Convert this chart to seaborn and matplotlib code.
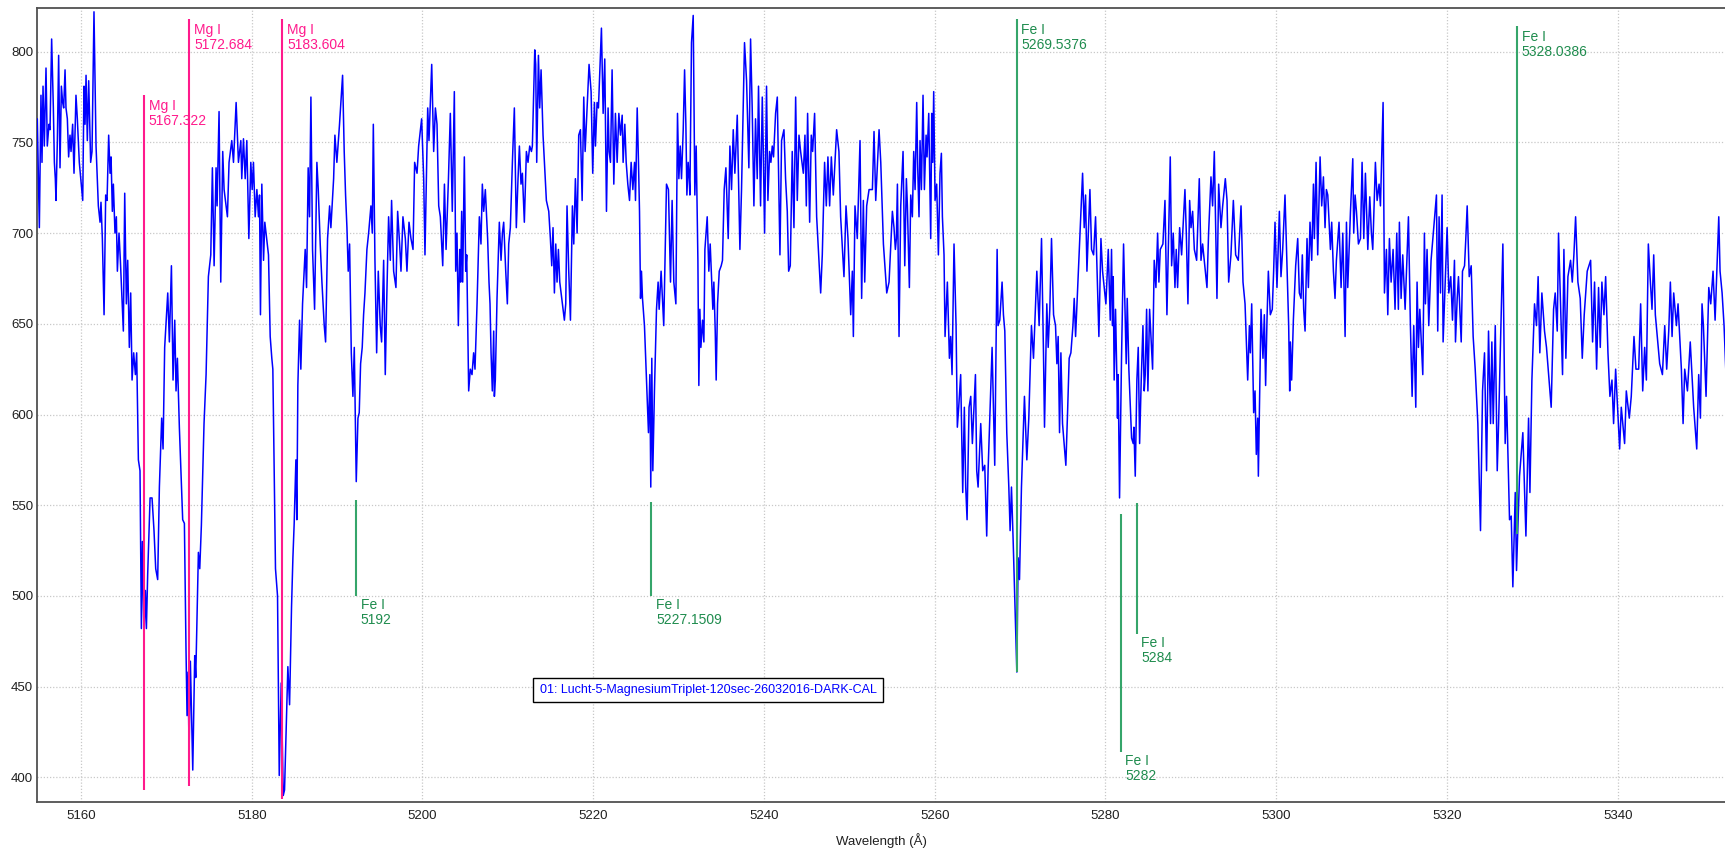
import matplotlib
matplotlib.use("Agg")
import matplotlib.pyplot as plt
import numpy as np
import pandas as pd
import seaborn as sns

# ---------------- data ----------------
wl_a = [5154.88, 5155.12, 5155.31, 5155.43, 5155.55, 5155.70, 5155.90, 5156.05, 5156.25, 5156.37,
        5156.56, 5156.76, 5156.88, 5156.99, 5157.07, 5157.23, 5157.38, 5157.54, 5157.70, 5157.85,
        5157.97, 5158.13, 5158.24, 5158.40, 5158.55, 5158.71, 5158.83, 5159.02, 5159.18, 5159.41,
        5159.57, 5159.80, 5160.20, 5160.35, 5160.47, 5160.59, 5160.74, 5160.90, 5161.13, 5161.29,
        5161.52, 5161.76, 5162.03, 5162.23, 5162.34, 5162.50, 5162.70, 5162.89, 5163.05, 5163.24,
        5163.40, 5163.52, 5163.67, 5163.79, 5163.98, 5164.14, 5164.26, 5164.45, 5164.61, 5164.96,
        5165.12, 5165.31, 5165.47, 5165.66, 5165.82, 5165.98, 5166.17, 5166.37, 5166.52, 5166.72,
        5166.91, 5167.07, 5167.19, 5167.38, 5167.54, 5167.66, 5167.81, 5167.93, 5168.09, 5168.32,
        5168.55, 5168.75, 5168.98, 5169.18, 5169.45, 5169.61, 5169.80, 5170.16, 5170.35, 5170.59,
        5170.78, 5170.98, 5171.13, 5171.29, 5171.52, 5171.91, 5172.11, 5172.30, 5172.42, 5172.54,
        5172.66, 5172.81, 5173.09, 5173.32, 5173.44, 5173.75, 5173.91, 5174.10, 5174.41, 5174.65,
        5174.92, 5175.20, 5175.39, 5175.59, 5175.82, 5175.94, 5176.17, 5176.37, 5176.60, 5176.76,
        5177.15, 5177.34]
fx_a = [763, 703, 776, 739, 781, 748, 791, 748, 760, 757,
        807, 769, 739, 730, 718, 751, 798, 736, 781, 772,
        769, 790, 769, 763, 742, 754, 745, 760, 733, 776,
        763, 739, 718, 781, 760, 787, 751, 784, 739, 745,
        822, 748, 715, 706, 717, 697, 655, 721, 718, 754,
        733, 742, 712, 727, 700, 709, 679, 700, 685, 646,
        722, 661, 685, 637, 667, 619, 634, 622, 634, 575,
        569, 482, 530, 479, 503, 482, 512, 530, 554, 554,
        536, 515, 509, 560, 598, 581, 637, 667, 640, 682,
        619, 652, 613, 631, 593, 542, 540, 470, 434, 458,
        413, 464, 404, 467, 455, 524, 515, 539, 595, 622,
        676, 688, 736, 682, 736, 715, 767, 673, 745, 724,
        709, 739]

wl_b = [5177.66, 5177.86, 5178.17, 5178.44, 5178.72, 5178.83, 5179.03, 5179.23, 5179.42, 5179.66,
        5179.89, 5180.05, 5180.20, 5180.40, 5180.60, 5180.79, 5180.91, 5181.02, 5181.18, 5181.38,
        5181.53, 5181.96, 5182.16, 5182.35, 5182.47, 5182.78, 5183.02, 5183.22, 5183.45, 5183.69,
        5183.84, 5184.23, 5184.43, 5184.66, 5184.82, 5184.97, 5185.17, 5185.28, 5185.40, 5185.60,
        5185.75, 5185.95, 5186.26, 5186.42, 5186.61, 5186.77, 5186.93, 5187.12, 5187.36, 5187.63,
        5187.79, 5188.02, 5188.22, 5188.49, 5188.65, 5188.88, 5189.12, 5189.27, 5189.59, 5189.74,
        5189.97, 5190.28, 5190.64, 5190.83, 5190.99, 5191.15, 5191.30, 5191.46, 5191.66, 5191.85,
        5192.01, 5192.24, 5192.44, 5192.59, 5192.75, 5192.94, 5193.10, 5193.26, 5193.49, 5193.69,
        5193.96, 5194.12, 5194.24, 5194.43, 5194.63, 5194.82, 5195.05, 5195.21, 5195.45, 5195.64,
        5195.80, 5196.03, 5196.23, 5196.38, 5196.62, 5196.89, 5197.09, 5197.32, 5197.48, 5197.71,
        5197.99, 5198.18, 5198.42, 5198.65, 5198.89, 5199.08, 5199.36, 5199.55, 5199.90, 5200.14,
        5200.29, 5200.61, 5200.76, 5201.08, 5201.31, 5201.51, 5201.70, 5201.90, 5202.09, 5202.37,
        5202.57, 5202.76, 5203.04]
fx_b = [751, 739, 772, 739, 751, 730, 752, 730, 751, 697,
        739, 724, 739, 709, 724, 709, 721, 655, 727, 685,
        706, 688, 643, 631, 625, 515, 500, 401, 452, 390,
        393, 461, 440, 494, 521, 540, 575, 542, 616, 652,
        625, 661, 691, 670, 736, 709, 775, 691, 658, 739,
        724, 694, 673, 649, 640, 697, 715, 703, 730, 754,
        739, 760, 787, 745, 721, 703, 679, 694, 634, 610,
        637, 563, 598, 601, 628, 637, 655, 667, 691, 700,
        715, 700, 760, 685, 634, 679, 649, 640, 685, 622,
        661, 709, 685, 718, 679, 670, 712, 694, 679, 709,
        697, 679, 706, 697, 691, 739, 733, 748, 763, 730,
        688, 769, 751, 793, 745, 769, 760, 715, 709, 682,
        727, 691, 730]

wl_c = [5203.26, 5203.49, 5203.73, 5203.89, 5204.04, 5204.20, 5204.36, 5204.47, 5204.59, 5204.71,
        5204.90, 5205.06, 5205.18, 5205.41, 5205.60, 5205.80, 5205.99, 5206.15, 5206.39, 5206.66,
        5206.85, 5207.01, 5207.17, 5207.36, 5207.63, 5207.79, 5207.91, 5208.03, 5208.18, 5208.34,
        5208.42, 5208.53, 5208.73, 5209.00, 5209.20, 5209.36, 5209.51, 5209.75, 5209.94, 5210.10,
        5210.29, 5210.53, 5210.76, 5210.99, 5211.19, 5211.35, 5211.54, 5211.70, 5211.93, 5212.17,
        5212.36, 5212.56, 5212.76, 5212.87, 5213.15, 5213.26, 5213.38, 5213.58, 5213.73, 5213.89,
        5214.12, 5214.51, 5214.79, 5214.98, 5215.14, 5215.29, 5215.45, 5215.61, 5215.76, 5215.92,
        5216.08, 5216.31, 5216.62, 5216.78, 5216.93, 5217.13, 5217.33, 5217.56, 5217.72, 5217.91,
        5218.11, 5218.30, 5218.50, 5218.70, 5218.89, 5219.05, 5219.51, 5219.75, 5219.94, 5220.14,
        5220.26, 5220.45, 5220.61, 5220.96, 5221.16, 5221.35, 5221.55, 5221.74, 5221.86, 5222.02,
        5222.21, 5222.41, 5222.60, 5222.80, 5223.00, 5223.19, 5223.39, 5223.50, 5223.70, 5223.86,
        5224.05, 5224.25, 5224.44, 5224.64, 5224.84, 5224.95, 5225.15, 5225.30, 5225.42, 5225.54,
        5225.65, 5225.77, 5226.00, 5226.24, 5226.47, 5226.63, 5226.74, 5226.86, 5226.98, 5227.17,
        5227.41, 5227.60, 5227.72, 5227.95, 5228.26, 5228.58, 5228.81]
fx_c = [766, 712, 778, 679, 700, 649, 691, 673, 712, 673,
        742, 679, 688, 613, 625, 622, 634, 625, 661, 709,
        694, 727, 712, 724, 697, 673, 661, 634, 613, 646,
        610, 619, 664, 706, 685, 700, 706, 679, 661, 694,
        703, 739, 769, 703, 730, 748, 727, 733, 706, 745,
        739, 748, 745, 748, 801, 793, 739, 798, 769, 790,
        754, 718, 712, 697, 682, 703, 667, 694, 673, 691,
        673, 664, 652, 661, 715, 679, 652, 715, 694, 730,
        700, 754, 757, 718, 775, 745, 793, 778, 733, 772,
        748, 772, 769, 813, 766, 796, 712, 769, 745, 739,
        790, 727, 766, 739, 766, 754, 765, 739, 760, 739,
        727, 718, 739, 724, 739, 718, 769, 739, 712, 664,
        679, 664, 649, 619, 590, 622, 560, 631, 569, 613,
        658, 673, 658, 679, 649, 727, 724]

wl_d = [5229.05, 5229.24, 5229.44, 5229.68, 5229.87, 5230.03, 5230.19, 5230.34, 5230.54, 5230.70,
        5230.85, 5230.97, 5231.12, 5231.24, 5231.32, 5231.51, 5231.71, 5231.90, 5232.06, 5232.26,
        5232.37, 5232.49, 5232.61, 5232.80, 5232.96, 5233.08, 5233.35, 5233.54, 5233.70, 5234.01,
        5234.13, 5234.29, 5234.40, 5234.56, 5234.76, 5234.99, 5235.14, 5235.34, 5235.54, 5235.81,
        5236.01, 5236.20, 5236.40, 5236.59, 5236.87, 5237.18, 5237.37, 5237.72, 5237.96, 5238.23,
        5238.43, 5238.62, 5238.82, 5239.01, 5239.21, 5239.36, 5239.60, 5239.80, 5239.91, 5240.07,
        5240.30, 5240.46, 5240.66, 5240.81, 5240.97, 5241.12, 5241.36, 5241.56, 5241.87, 5242.06,
        5242.34, 5242.53, 5242.73, 5242.89, 5243.08, 5243.31, 5243.51, 5243.71, 5243.90, 5244.10,
        5244.29, 5244.61, 5244.80, 5244.96, 5245.11, 5245.35, 5245.54, 5245.70, 5245.93, 5246.17,
        5246.64, 5246.83, 5247.10, 5247.30, 5247.49, 5247.69, 5247.89, 5248.12, 5248.51, 5248.78,
        5248.98, 5249.37, 5249.61, 5249.84, 5250.16, 5250.35, 5250.47, 5250.66, 5250.93, 5251.25,
        5251.44, 5251.64, 5251.80, 5252.03, 5252.31, 5252.70, 5252.89, 5253.09, 5253.48, 5253.68,
        5253.99, 5254.38, 5254.65]
fx_d = [673, 718, 673, 661, 766, 730, 748, 730, 757, 790,
        760, 721, 739, 730, 721, 805, 820, 721, 748, 685,
        616, 658, 637, 652, 640, 691, 709, 679, 694, 658,
        673, 646, 619, 661, 679, 682, 685, 724, 736, 697,
        748, 724, 757, 733, 765, 691, 724, 805, 784, 736,
        807, 769, 715, 763, 730, 781, 715, 775, 748, 700,
        781, 718, 745, 739, 748, 742, 766, 775, 688, 751,
        757, 730, 712, 679, 682, 745, 703, 775, 718, 754,
        745, 733, 754, 715, 766, 706, 754, 745, 766, 709,
        667, 688, 739, 715, 742, 715, 742, 721, 757, 745,
        709, 676, 715, 697, 655, 679, 643, 715, 697, 751,
        664, 718, 673, 715, 724, 724, 756, 718, 757, 739,
        694, 667, 673]

wl_e = [5255.04, 5255.23, 5255.39, 5255.51, 5255.63, 5255.82, 5256.02, 5256.29, 5256.49, 5256.68,
        5256.80, 5257.03, 5257.19, 5257.38, 5257.54, 5257.70, 5257.89, 5258.01, 5258.16, 5258.28,
        5258.44, 5258.63, 5258.79, 5258.99, 5259.10, 5259.30, 5259.53, 5259.65, 5259.77, 5259.88,
        5260.04, 5260.23, 5260.43, 5260.62, 5260.78, 5260.90, 5261.09, 5261.21, 5261.48, 5261.72,
        5261.87, 5262.03, 5262.26, 5262.50, 5262.65, 5262.81, 5263.04, 5263.28, 5263.47, 5263.63,
        5263.79, 5264.02, 5264.22, 5264.41, 5264.77, 5264.92, 5265.08, 5265.39, 5265.62, 5265.86,
        5266.09, 5266.25, 5266.72, 5267.03, 5267.31, 5267.42, 5267.62, 5267.89, 5268.05, 5268.21,
        5268.44, 5268.68, 5268.83, 5268.99, 5269.19, 5269.42, 5269.62, 5269.77, 5269.93, 5270.16,
        5270.51, 5270.79, 5271.02, 5271.33, 5271.57, 5271.96, 5272.23, 5272.51, 5272.74, 5272.86,
        5273.13, 5273.29, 5273.48, 5273.68, 5273.92, 5274.15, 5274.31, 5274.46, 5274.62, 5274.78,
        5274.97, 5275.36, 5275.56, 5275.75, 5275.95, 5276.19, 5276.34, 5276.50, 5277.32, 5277.51,
        5277.67, 5277.83, 5278.18, 5278.37, 5278.61, 5278.84, 5279.23, 5279.47, 5279.66, 5280.05,
        5280.33, 5280.56]
fx_e = [712, 703, 691, 697, 727, 643, 715, 745, 682, 730,
        715, 670, 721, 709, 745, 724, 772, 736, 709, 751,
        724, 776, 724, 754, 742, 766, 697, 766, 739, 778,
        718, 727, 688, 733, 744, 709, 688, 643, 673, 631,
        643, 622, 694, 649, 593, 604, 622, 557, 604, 560,
        542, 604, 610, 584, 622, 569, 560, 595, 569, 572,
        533, 569, 637, 572, 691, 649, 652, 673, 655, 646,
        590, 560, 536, 560, 530, 491, 458, 521, 509, 560,
        610, 575, 598, 649, 631, 679, 649, 697, 634, 593,
        661, 637, 658, 697, 655, 649, 628, 643, 590, 634,
        595, 572, 601, 631, 634, 649, 664, 643, 733, 703,
        721, 679, 724, 691, 688, 709, 643, 697, 679, 661,
        691, 652]

wl_f = [5280.71, 5280.83, 5280.91, 5281.02, 5281.18, 5281.34, 5281.41, 5281.49, 5281.65, 5281.88,
        5282.12, 5282.27, 5282.43, 5282.55, 5282.74, 5283.06, 5283.25, 5283.33, 5283.49, 5283.68,
        5283.84, 5284.00, 5284.19, 5284.39, 5284.54, 5284.66, 5284.82, 5284.97, 5285.17, 5285.52,
        5285.71, 5285.91, 5286.11, 5286.26, 5286.42, 5286.73, 5286.97, 5287.20, 5287.59, 5287.75,
        5287.94, 5288.14, 5288.29, 5288.45, 5288.69, 5288.92, 5289.31, 5289.47, 5289.66, 5289.86,
        5290.02, 5290.21, 5290.41, 5290.68, 5290.99, 5291.19, 5291.38, 5291.89, 5292.08, 5292.36,
        5292.55, 5292.75, 5292.95, 5293.06, 5293.26, 5293.53, 5293.73, 5294.04, 5294.24, 5294.43,
        5294.70, 5294.98, 5295.25, 5295.56, 5295.88, 5296.11, 5296.35, 5296.66, 5296.86, 5296.97,
        5297.13, 5297.36, 5297.52, 5297.67, 5297.83, 5297.91, 5298.06, 5298.22, 5298.45, 5298.61,
        5298.76, 5298.92, 5299.08, 5299.31, 5299.54, 5299.70, 5299.86, 5300.09, 5300.37, 5300.56,
        5300.76, 5301.03, 5301.19, 5301.34, 5301.46, 5301.58, 5301.66, 5301.81, 5302.01, 5302.28,
        5302.52, 5302.71, 5302.91, 5303.06, 5303.22, 5303.38, 5303.61, 5303.77, 5303.96, 5304.16,
        5304.36, 5304.47, 5304.67, 5304.86, 5305.14, 5305.33, 5305.53, 5305.72, 5305.88, 5306.04,
        5306.35]
fx_f = [691, 649, 676, 619, 658, 619, 598, 622, 554, 631,
        694, 661, 628, 664, 625, 587, 584, 593, 566, 619,
        637, 584, 619, 649, 613, 622, 658, 613, 658, 625,
        685, 670, 700, 673, 691, 694, 718, 655, 742, 682,
        700, 670, 691, 670, 703, 688, 724, 700, 661, 718,
        703, 712, 691, 685, 730, 685, 694, 670, 700, 731,
        715, 745, 694, 664, 727, 703, 715, 730, 718, 673,
        688, 718, 688, 685, 715, 673, 661, 619, 649, 634,
        661, 601, 613, 578, 598, 566, 610, 658, 631, 655,
        616, 652, 679, 655, 658, 679, 706, 670, 712, 676,
        691, 721, 694, 667, 649, 613, 640, 619, 652, 682,
        697, 667, 664, 688, 658, 646, 697, 670, 706, 685,
        727, 697, 739, 688, 742, 715, 731, 703, 724, 721,
        691]

wl_g = [5306.50, 5306.70, 5306.89, 5307.05, 5307.36, 5307.60, 5307.80, 5308.07, 5308.23, 5308.38,
        5308.70, 5308.97, 5309.08, 5309.24, 5309.40, 5309.63, 5309.87, 5310.06, 5310.26, 5310.45,
        5310.73, 5310.96, 5311.15, 5311.31, 5311.62, 5311.82, 5312.05, 5312.21, 5312.52, 5312.68,
        5312.91, 5313.07, 5313.26, 5313.46, 5313.69, 5313.92, 5314.12, 5314.31, 5314.43, 5314.63,
        5314.82, 5315.10, 5315.49, 5315.72, 5315.92, 5316.11, 5316.35, 5316.50, 5316.66, 5316.82,
        5317.17, 5317.36, 5317.48, 5317.67, 5317.87, 5318.14, 5318.77, 5318.92, 5319.08, 5319.24,
        5319.43, 5319.55, 5320.02, 5320.22, 5320.45, 5320.65, 5320.88, 5321.00, 5321.20, 5321.35,
        5321.67, 5321.82, 5322.06, 5322.21, 5322.37, 5322.61, 5322.84, 5323.07, 5323.31, 5323.62,
        5323.93, 5324.17, 5324.40, 5324.64, 5324.87, 5325.11, 5325.26, 5325.42, 5325.66, 5325.89,
        5326.05]
fx_g = [706, 679, 664, 685, 706, 670, 700, 643, 706, 670,
        712, 741, 700, 721, 712, 694, 697, 739, 697, 733,
        691, 720, 700, 691, 739, 718, 727, 715, 772, 667,
        691, 655, 697, 673, 691, 658, 700, 658, 706, 664,
        688, 658, 709, 649, 610, 649, 604, 673, 637, 658,
        622, 700, 661, 691, 649, 685, 721, 646, 709, 667,
        721, 640, 703, 667, 676, 652, 685, 640, 664, 676,
        640, 679, 682, 697, 715, 676, 682, 643, 625, 595,
        536, 613, 634, 569, 646, 595, 640, 595, 649, 569,
        595]

wl_h = [5326.35, 5326.55, 5326.82, 5326.98, 5327.33, 5327.53, 5327.72, 5328.00, 5328.15, 5328.50,
        5328.89, 5329.25, 5329.56, 5329.72, 5329.95, 5330.26, 5330.49, 5330.68, 5330.88, 5331.12,
        5331.43, 5331.66, 5332.21, 5332.49, 5332.68, 5332.92, 5333.07, 5333.31, 5333.54, 5333.70,
        5333.93, 5334.17, 5334.48, 5334.68, 5334.87, 5335.07, 5335.34, 5335.61, 5335.85, 5336.08,
        5336.43, 5336.83, 5337.06, 5337.29, 5337.53, 5337.76, 5337.96, 5338.15, 5338.39, 5338.59,
        5338.86, 5339.09, 5339.33, 5339.52, 5339.76, 5340.23, 5340.42, 5340.81, 5341.01, 5341.36,
        5341.59, 5341.91, 5342.14, 5342.46, 5342.69, 5342.93, 5343.16, 5343.36, 5343.59, 5343.83,
        5344.02, 5344.22, 5344.41, 5344.92, 5345.24, 5345.51, 5345.74, 5345.98, 5346.17, 5346.37,
        5346.56, 5346.88, 5347.07, 5347.46, 5347.66, 5347.85, 5348.17, 5348.50, 5348.90, 5349.26,
        5349.49, 5349.69, 5349.88, 5350.04, 5350.35, 5350.67, 5350.90, 5351.17, 5351.41, 5351.84,
        5351.99, 5352.23, 5352.46, 5352.66]
fx_h = [655, 694, 584, 610, 542, 544, 505, 557, 514, 566,
        590, 533, 598, 557, 619, 661, 649, 676, 634, 667,
        646, 637, 604, 658, 667, 646, 700, 661, 622, 691,
        631, 676, 685, 673, 688, 709, 673, 664, 631, 655,
        679, 685, 640, 673, 625, 670, 637, 673, 655, 676,
        634, 610, 619, 595, 625, 581, 604, 584, 613, 598,
        610, 643, 625, 625, 661, 613, 637, 619, 694, 673,
        658, 688, 655, 628, 622, 649, 625, 646, 673, 643,
        667, 649, 661, 625, 595, 625, 613, 640, 604, 581,
        622, 598, 661, 649, 610, 670, 661, 679, 652, 709,
        679, 667, 649, 625]

# spectral line markers
line_wl = [5167.38, 5172.70, 5183.60, 5192.24, 5226.82, 5269.62, 5281.80, 5283.64, 5328.22]
line_lo = [393, 395, 388, 500, 500, 458, 414, 479, 534]
line_hi = [776, 818, 818, 553, 552, 818, 545, 551, 814]
line_txt = ["Mg I\n5167.322", "Mg I\n5172.684", "Mg I\n5183.604", "Fe I\n5192",
            "Fe I\n5227.1509", "Fe I\n5269.5376", "Fe I\n5282", "Fe I\n5284", "Fe I\n5328.0386"]
line_elem = ["Mg", "Mg", "Mg", "Fe", "Fe", "Fe", "Fe", "Fe", "Fe"]
line_lab_at = ["top", "top", "top", "bottom", "bottom", "top", "bottom", "bottom", "top"]

x_ticks = [5160, 5180, 5200, 5220, 5240, 5260, 5280, 5300, 5320, 5340]
y_ticks = [400, 450, 500, 550, 600, 650, 700, 750, 800]
legend_text = "01: Lucht-5-MagnesiumTriplet-120sec-26032016-DARK-CAL"

# ---------------- figure ----------------
sns.set_style("white")
plt.rcParams['font.family'] = ['Liberation Sans', 'DejaVu Sans']

W, H = 1725, 850
fig = plt.figure(figsize=(W / 100, H / 100), dpi=100)
ax_l, ax_r, ax_t, ax_b = 37.3, 1725.0, 7.7, 801.7
ax = fig.add_axes([ax_l / W, 1 - ax_b / H, (ax_r - ax_l) / W, (ax_b - ax_t) / H])

df = pd.DataFrame({
    "wavelength": np.concatenate([wl_a, wl_b, wl_c, wl_d, wl_e, wl_f, wl_g, wl_h]),
    "flux": np.concatenate([fx_a, fx_b, fx_c, fx_d, fx_e, fx_f, fx_g, fx_h]),
})
sns.lineplot(data=df, x="wavelength", y="flux", ax=ax, color="#0000ff",
             linewidth=1.1, estimator=None, sort=False, zorder=3)

colors_line = {"Mg": "#ff1a8c", "Fe": "#35a56a"}
colors_text = {"Mg": "#ff1a8c", "Fe": "#1f8c4e"}
for x, lo, hi, txt, el, pos in zip(line_wl, line_lo, line_hi, line_txt, line_elem, line_lab_at):
    ax.plot([x, x], [lo, hi], color=colors_line[el], lw=1.5, zorder=4, solid_capstyle="butt")
    anchor_y = hi if pos == "top" else lo
    dy = -2.5 if pos == "top" else -1.5
    ax.annotate(txt, xy=(x, anchor_y), xytext=(3.3, dy), textcoords="offset points",
                ha="left", va="top", fontsize=10, color=colors_text[el],
                linespacing=1.1, zorder=5)

ax.set_xlim(5154.88, 5352.57)
ax.set_ylim(386.55, 824.26)
ax.set_xticks(x_ticks)
ax.set_yticks(y_ticks)
ax.set_xticklabels([str(t) for t in x_ticks])
ax.set_yticklabels([str(t) for t in y_ticks])
ax.tick_params(axis="both", length=0, labelsize=9.5, colors="#202020")
ax.tick_params(axis="x", pad=6)
ax.tick_params(axis="y", pad=3)

ax.grid(True, color="#c8c8c8", linestyle=(0, (1, 1.5)), linewidth=0.9, zorder=0)
ax.set_axisbelow(True)
for side in ["left", "top", "bottom"]:
    ax.spines[side].set_color("#505050")
    ax.spines[side].set_linewidth(1.3)
ax.spines["right"].set_visible(False)

ax.set_xlabel("Wavelength (Å)", fontsize=9.5, color="#202020", labelpad=8)
ax.set_ylabel("")

ax.text(0.3974, 0.1407, legend_text, transform=ax.transAxes, ha="center", va="center",
        fontsize=9, color="#0000ff", zorder=6,
        bbox=dict(boxstyle="square,pad=0.5", facecolor="white", edgecolor="black", linewidth=1.0))

fig.savefig("out.png", dpi=100)
